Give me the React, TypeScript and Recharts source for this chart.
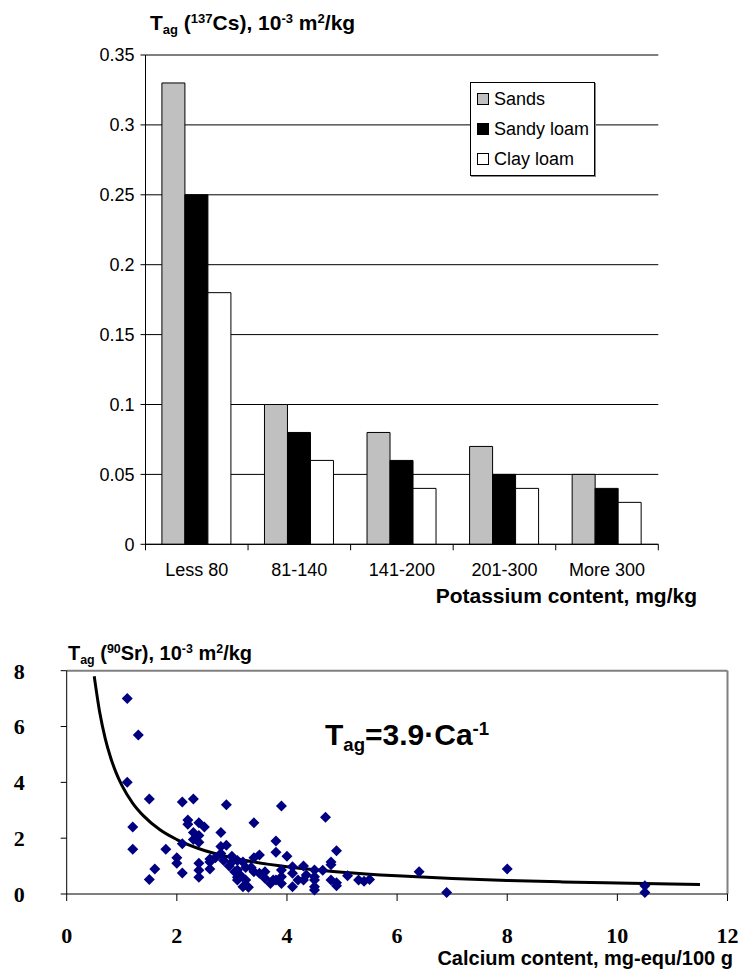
import React from "react";
import {
  BarChart,
  Bar,
  ComposedChart,
  Scatter,
  Line,
  XAxis,
  YAxis,
  CartesianGrid,
  ReferenceLine,
  Legend,
} from "recharts";

// Upper panel: transfer factor of 137Cs by potassium content
const CATEGORIES = ["Less 80", "81-140", "141-200", "201-300", "More 300"];
const SERIES_NAMES = ["Sands", "Sandy loam", "Clay loam"];
const SANDS = [0.33, 0.1, 0.08, 0.07, 0.05];
const SANDY_LOAM = [0.25, 0.08, 0.06, 0.05, 0.04];
const CLAY_LOAM = [0.18, 0.06, 0.04, 0.04, 0.03];
const CS_TICKS = [0, 0.05, 0.1, 0.15, 0.2, 0.25, 0.3, 0.35];

// Lower panel: transfer factor of 90Sr vs calcium content
const SR_CA = [
  1.1, 1.3, 1.1, 1.5, 1.2, 1.2, 1.5, 1.6, 1.8,
  2.0, 2.0, 2.1, 2.1, 2.1, 2.3,
  2.2, 2.2, 2.4, 2.5, 2.3, 2.4, 2.3, 2.4,
  2.4, 2.4, 2.4, 2.6, 2.6, 2.7, 2.6,
  2.8, 2.9, 2.8, 2.9, 2.8, 2.85,
  3.0, 3.0, 2.95, 3.1, 3.05, 3.1, 3.1, 3.2, 3.25, 3.1, 3.15, 3.25, 3.2, 3.3,
  3.4, 3.4, 3.5, 3.4, 3.5, 3.6, 3.7, 3.8, 3.35, 3.6,
  3.8, 3.8, 3.9, 4.0, 3.9, 3.9, 3.9, 3.75,
  4.1, 4.1, 4.1, 4.2, 4.3, 4.35, 4.3, 4.5, 4.5,
  4.5, 4.5, 4.5, 4.65, 4.7, 4.8, 4.8, 4.9, 4.8, 4.9, 4.9,
  5.1, 5.3, 5.4, 5.5, 6.4, 6.9, 8.0, 10.5, 10.5,
];
const SR_TAG = [
  7.0, 5.7, 4.0, 3.4, 2.4, 1.6, 0.52, 0.9, 1.6,
  1.3, 1.1, 1.8, 0.75, 3.3, 3.4,
  2.65, 2.5, 2.55, 2.4, 2.2, 2.1, 1.95, 1.85,
  1.1, 0.85, 0.6, 0.9, 1.15, 1.3, 1.25,
  2.2, 3.2, 1.7, 1.75, 1.45, 1.2,
  1.35, 1.15, 1.0, 1.2, 0.8, 0.6, 0.5, 1.15, 0.95, 0.86, 0.68, 0.5, 0.26, 0.24,
  2.55, 1.3, 1.4, 0.8, 0.74, 0.56, 0.38, 0.5, 0.95, 0.8,
  1.9, 1.5, 3.15, 1.35, 0.86, 0.62, 0.38, 0.5,
  0.74, 0.98, 0.26, 0.5, 1.0, 0.68, 0.5, 0.5, 0.26,
  0.86, 0.62, 0.14, 0.85, 2.75, 1.15, 1.05, 1.55, 0.5, 0.3, 0.4,
  0.65, 0.5, 0.46, 0.52, 0.8, 0.05, 0.9, 0.3, 0.05,
];

// Power trend line Tag = 3.9 / Ca
const TREND_CA = [0.5, 0.6, 0.7, 0.8, 0.9, 1, 1.2, 1.4, 1.7, 2, 2.5, 3, 4, 5, 6, 7, 8, 9, 10, 11.5];
const TREND_TAG = [7.8, 6.5, 5.57, 4.875, 4.33, 3.9, 3.25, 2.79, 2.29, 1.95, 1.56, 1.3, 0.975, 0.78, 0.65, 0.557, 0.4875, 0.433, 0.39, 0.339];

const SR_X_TICKS = [0, 2, 4, 6, 8, 10, 12];
const SR_Y_TICKS = [0, 2, 4, 6, 8];

const barData = CATEGORIES.map((name, i) => ({
  name,
  sands: SANDS[i],
  sandyLoam: SANDY_LOAM[i],
  clayLoam: CLAY_LOAM[i],
}));
const srData = SR_CA.map((x, i) => ({ x, y: SR_TAG[i] }));
const trendData = TREND_CA.map((x, i) => ({ x, y: TREND_TAG[i] }));

const SANS = "Arial, 'Liberation Sans', Helvetica, sans-serif";
const SERIF = "'Times New Roman', 'Liberation Serif', serif";

// plot box of the bar chart
const BAR_LEFT = 145.5;
const BAR_RIGHT = 658.3;
const BAR_BOTTOM = 544.3;
const BAR_H = 620;
const BAND = (BAR_RIGHT - BAR_LEFT) / CATEGORIES.length;

const CategoryTick = (props: any) => {
  const { x, y, payload, index } = props;
  return (
    <g>
      <line x1={x - BAND / 2} x2={x - BAND / 2} y1={y} y2={y + 6} stroke="#000" />
      {index === CATEGORIES.length - 1 && (
        <line x1={x + BAND / 2} x2={x + BAND / 2} y1={y} y2={y + 6} stroke="#000" />
      )}
      <text x={x} y={y + 32} textAnchor="middle" fontSize={18} fontFamily={SANS} fill="#000">
        {payload.value}
      </text>
    </g>
  );
};

const LegendBox = (props: any) => {
  const items = [...(props.payload || [])].sort(
    (a: any, b: any) => SERIES_NAMES.indexOf(a.value) - SERIES_NAMES.indexOf(b.value)
  );
  return (
    <div
      style={{
        border: "1px solid #000",
        background: "#fff",
        padding: "1px 0 1px 6px",
        fontFamily: SANS,
        fontSize: 18,
        boxShadow: "1px 1px 0 #888",
      }}
    >
      {items.map((entry: any) => (
        <div
          key={entry.value}
          style={{ display: "flex", alignItems: "center", height: 30, whiteSpace: "nowrap" }}
        >
          <span
            style={{
              display: "inline-block",
              width: 10,
              height: 10,
              border: "1px solid #000",
              background: entry.color,
              marginRight: 5,
            }}
          />
          <span>{entry.value}</span>
        </div>
      ))}
    </div>
  );
};

const Diamond = (props: any) => {
  const { cx, cy } = props;
  const r = 5.5;
  return (
    <path
      d={`M${cx},${cy - r}L${cx + r},${cy}L${cx},${cy + r}L${cx - r},${cy}Z`}
      fill="#000080"
    />
  );
};

const titleStyle: React.CSSProperties = {
  position: "absolute",
  fontFamily: SANS,
  fontWeight: "bold",
  color: "#000",
  whiteSpace: "nowrap",
};
const supStyle: React.CSSProperties = { fontSize: "0.62em", verticalAlign: "0.55em", lineHeight: 0 };
const subStyle: React.CSSProperties = { fontSize: "0.62em", verticalAlign: "-0.3em", lineHeight: 0 };

export default function App() {
  return (
    <div
      style={{
        position: "fixed",
        left: 0,
        top: 0,
        width: 741,
        height: 974,
        overflow: "hidden",
        background: "#fff",
      }}
    >
      <div style={{ ...titleStyle, left: 150, top: 12, fontSize: 21, lineHeight: "21px" }}>
        T<span style={subStyle}>ag</span> (<span style={supStyle}>137</span>Cs), 10
        <span style={supStyle}>-3</span> m<span style={supStyle}>2</span>/kg
      </div>

      <div style={{ position: "absolute", left: 0, top: 0 }}>
        <BarChart
          width={741}
          height={BAR_H}
          data={barData}
          margin={{ top: 55, right: 741 - BAR_RIGHT, bottom: BAR_H - BAR_BOTTOM - 40, left: 0 }}
          barCategoryGap="16%"
          barGap={0}
        >
          <CartesianGrid horizontal vertical={false} stroke="#000" />
          <XAxis
            dataKey="name"
            height={40}
            tickLine={false}
            tickSize={0}
            tickMargin={0}
            axisLine={{ stroke: "#000" }}
            tick={<CategoryTick />}
            interval={0}
          />
          <YAxis
            width={BAR_LEFT}
            domain={[0, 0.35]}
            ticks={CS_TICKS}
            tickSize={5}
            tickMargin={6}
            axisLine={{ stroke: "#000" }}
            tickLine={{ stroke: "#000" }}
            tick={{ fontSize: 18, fontFamily: SANS, fill: "#000" }}
          />
          <YAxis
            yAxisId="frame"
            orientation="right"
            width={0}
            domain={[0, 0.35]}
            tick={false}
            tickLine={false}
            axisLine={{ stroke: "#000" }}
          />
          <Legend
            layout="vertical"
            align="center"
            verticalAlign="middle"
            content={<LegendBox />}
            wrapperStyle={{ left: 470, top: 82, width: 125, height: 94 }}
          />
          <Bar dataKey="sands" name="Sands" fill="#C0C0C0" stroke="#000" isAnimationActive={false} />
          <Bar dataKey="sandyLoam" name="Sandy loam" fill="#000" stroke="#000" isAnimationActive={false} />
          <Bar dataKey="clayLoam" name="Clay loam" fill="#fff" stroke="#000" isAnimationActive={false} />
        </BarChart>
      </div>

      <div style={{ ...titleStyle, right: 44, top: 585, fontSize: 21, lineHeight: "21px" }}>
        Potassium content, mg/kg
      </div>

      <div style={{ ...titleStyle, left: 68, top: 643, fontSize: 20, lineHeight: "20px" }}>
        T<span style={subStyle}>ag</span> (<span style={supStyle}>90</span>Sr), 10
        <span style={supStyle}>-3</span> m<span style={supStyle}>2</span>/kg
      </div>

      <div style={{ position: "absolute", left: 0, top: 630 }}>
        <ComposedChart
          width={741}
          height={344}
          margin={{ top: 40.7, right: 13.5, bottom: 20, left: 0 }}
        >
          <XAxis
            type="number"
            dataKey="x"
            domain={[0, 12]}
            ticks={SR_X_TICKS}
            height={60}
            tickSize={7}
            tickMargin={26}
            axisLine={{ stroke: "#000" }}
            tickLine={{ stroke: "#000" }}
            tick={{ fontSize: 22, fontFamily: SERIF, fontWeight: "bold", fill: "#000" }}
          />
          <YAxis
            type="number"
            dataKey="y"
            domain={[0, 8]}
            ticks={SR_Y_TICKS}
            width={66.7}
            tickSize={6}
            tickMargin={36}
            axisLine={{ stroke: "#000" }}
            tickLine={{ stroke: "#000" }}
            tick={{ fontSize: 22, fontFamily: SERIF, fontWeight: "bold", fill: "#000" }}
          />
          <ReferenceLine y={8} stroke="#808080" strokeWidth={2} />
          <ReferenceLine x={12} stroke="#808080" strokeWidth={2} />
          <Scatter data={srData} dataKey="y" shape={<Diamond />} isAnimationActive={false} />
          <Line
            data={trendData}
            dataKey="y"
            type="monotone"
            stroke="#000"
            strokeWidth={3}
            dot={false}
            activeDot={false}
            isAnimationActive={false}
          />
        </ComposedChart>
      </div>

      <div style={{ ...titleStyle, left: 325, top: 720, fontSize: 30, lineHeight: "30px" }}>
        T<span style={subStyle}>ag</span>=3.9·Ca<span style={supStyle}>-1</span>
      </div>

      <div style={{ ...titleStyle, right: 8, top: 948, fontSize: 20, lineHeight: "20px" }}>
        Calcium content, mg-equ/100 g
      </div>
    </div>
  );
}
